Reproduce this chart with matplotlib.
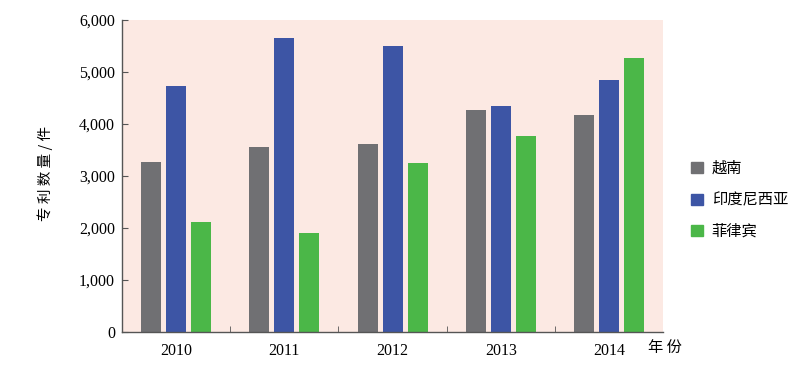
import matplotlib
matplotlib.use('Agg')
import matplotlib.pyplot as plt
from matplotlib.patches import Patch
import numpy as np

plt.rcParams['font.family'] = ['Liberation Serif', 'Noto Sans CJK SC']

years = ['2010', '2011', '2012', '2013', '2014']
series_names = ['越南', '印度尼西亚', '菲律宾']
vietnam = [3270, 3560, 3620, 4270, 4180]
indonesia = [4730, 5650, 5500, 4350, 4850]
philippines = [2120, 1900, 3250, 3770, 5270]
colors = ['#707073', '#3d55a5', '#4bb748']
yticks = [0, 1000, 2000, 3000, 4000, 5000, 6000]

fig = plt.figure(figsize=(7.97, 3.69), dpi=100)
ax = fig.add_axes([0.153, 0.100, 0.679, 0.846])
ax.set_facecolor('#fce9e3')

x = np.arange(len(years))
width = 0.185
step = 0.231
for i, (vals, c) in enumerate(zip([vietnam, indonesia, philippines], colors)):
    ax.bar(x + (i - 1) * step, vals, width=width, color=c, zorder=2)

ax.set_xlim(-0.5, len(years) - 0.5)
ax.set_ylim(0, 6000)
ax.set_yticks(yticks)
ax.set_yticklabels(['{:,}'.format(v) for v in yticks], fontsize=11.5)
ax.set_xticks(x)
ax.set_xticklabels(years, fontsize=11.5)
ax.set_xticks(x[:-1] + 0.5, minor=True)
ax.tick_params(axis='x', which='major', length=0, pad=8)
ax.tick_params(axis='x', which='minor', direction='in', length=4, color='#555555')
ax.tick_params(axis='y', direction='in', length=4, color='#555555', pad=5)

for s in ['top', 'right']:
    ax.spines[s].set_visible(False)
for s in ['left', 'bottom']:
    ax.spines[s].set_color('#555555')
    ax.spines[s].set_linewidth(1.0)

fig.text(0.057, 0.53, '专 利 数 量 / 件', rotation=90, fontsize=10.5,
         family=['Noto Sans CJK SC'], ha='center', va='center')
fig.text(0.834, 0.057, '年 份', fontsize=11, family=['Noto Sans CJK SC'],
         ha='center', va='center')

handles = [Patch(color=c) for c in colors]
leg = fig.legend(handles, series_names, loc='center left',
                 bbox_to_anchor=(0.85, 0.458), frameon=False,
                 prop={'family': 'Noto Sans CJK SC', 'size': 11},
                 handlelength=0.75, handleheight=0.75, handletextpad=0.6,
                 labelspacing=0.95)

fig.savefig('out.png', dpi=100)
